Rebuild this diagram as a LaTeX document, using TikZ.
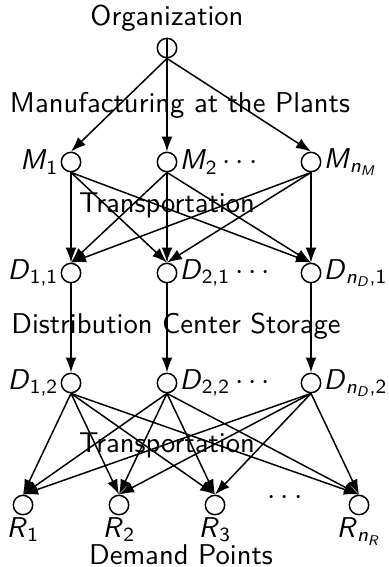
\documentclass[tikz,border=0pt]{standalone}
\usepackage{tikz}
\usetikzlibrary{arrows.meta,positioning}
\renewcommand{\familydefault}{\sfdefault}
\newcommand{\vname}[2]{\textit{#1}\textsubscript{#2}}
\newcommand{\nsub}[1]{\textit{n}\textsubscript{\textit{#1}}}
\newcommand{\lblsize}{\fontsize{10.5}{12}\selectfont}

\begin{document}
\begin{tikzpicture}[x=0.0129cm, y=-0.0129cm, -{Latex[length=5.5pt,width=4pt]}, line width=0.55pt,
	site/.style={circle, draw, minimum size=0.25cm, inner sep=0pt},
	lvl/.style={inner sep=0pt, font=\lblsize},
	tag/.style={inner sep=0.5pt, font=\lblsize}]
	\useasboundingbox (0,0) rectangle (389,567);
	
	\node[lvl] (torg) at (167,18) {Organization};
	\node[site] (org) at (167,48) {};
	\node[lvl] (tman) at (180,105) {Manufacturing at the Plants};
	
	\node[site, label={[tag]left:\vname{M}{1}}] (m1) at (71,162) {};
	\node[site, label={[tag]right:\vname{M}{2}\,$\cdots$}] (m2) at (167,162) {};
	\node[site, label={[tag]right:\vname{M}{\nsub{M}}}] (mn) at (311,162) {};
	
	\node[lvl] (ttr1) at (167,205) {Transportation};
	
	\node[site, label={[tag]left:\vname{D}{1,1}}] (d11) at (71,273) {};
	\node[site, label={[tag]right:\vname{D}{2,1}\,$\cdots$}] (d21) at (167,273) {};
	\node[site, label={[tag]right:\vname{D}{\nsub{D},1}}] (dn1) at (311,273) {};
	
	\node[lvl] (tdc) at (176,326) {Distribution Center Storage};
	
	\node[site, label={[tag]left:\vname{D}{1,2}}] (d12) at (71,383) {};
	\node[site, label={[tag]right:\vname{D}{2,2}\,$\cdots$}] (d22) at (167,383) {};
	\node[site, label={[tag]right:\vname{D}{\nsub{D},2}}] (dn2) at (311,383) {};
	
	\node[lvl] (ttr2) at (167,445) {Transportation};
	
	\node[site, label={[tag]below:\vname{R}{1}}] (r1) at (23,505) {};
	\node[site, label={[tag]below:\vname{R}{2}}] (r2) at (119,505) {};
	\node[site, label={[tag]below:\vname{R}{3}}] (r3) at (215,505) {};
	\node[lvl] (rdots) at (285,498) {$\cdots$};
	\node[site, label={[tag]below:\vname{R}{\nsub{R}}}] (rn) at (359,505) {};
	
	\node[lvl] (tdem) at (181,555) {Demand Points};
	
	% Edges
	\draw (org.south) -- (m1.north);
	\draw (org.north) -- (m2.north);
	\draw (org.south) -- (mn.north);
	\foreach \a in {m1,m2,mn}
		\foreach \b in {d11,d21,dn1}
			\draw (\a.south) -- (\b.north);
	\draw (d11) -- (d12);
	\draw (d21) -- (d22);
	\draw (dn1) -- (dn2);
	\foreach \a in {d12,d22,dn2}
		\foreach \b in {r1,r2,r3,rn}
			\draw (\a.south) -- (\b.north);
	
\end{tikzpicture}
\end{document}
